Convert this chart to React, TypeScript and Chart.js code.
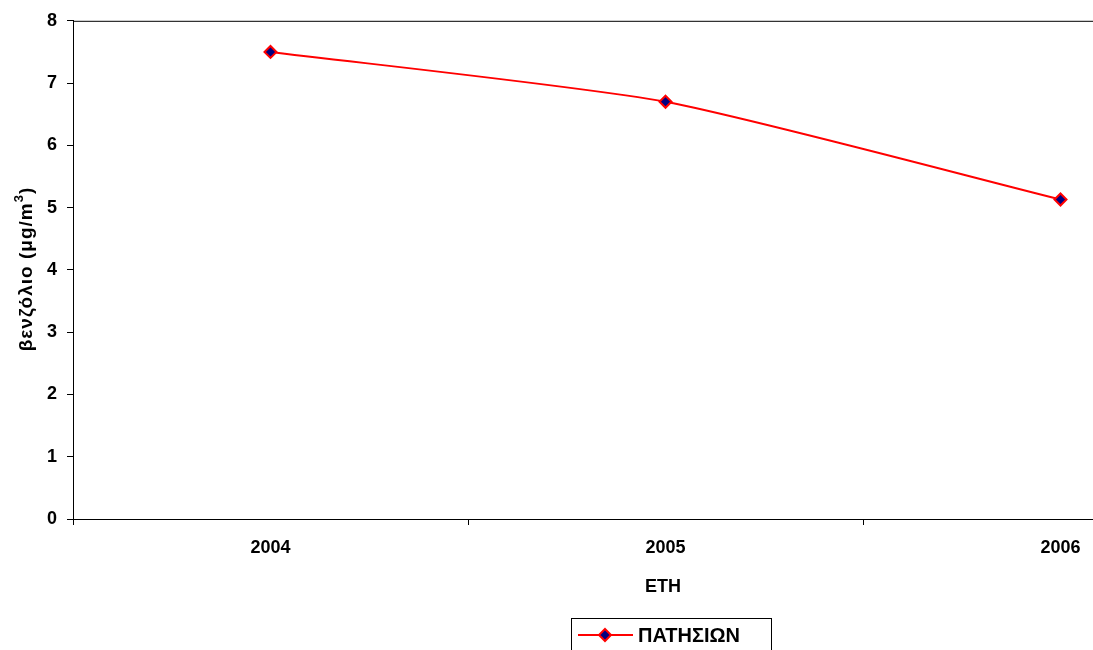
import React, { useEffect, useRef } from "react";
import { Chart, registerables } from "chart.js";
Chart.register(...registerables);

const categories = ["2004", "2005", "2006"];
const values = [7.5, 6.7, 5.13];
const seriesName = "ΠΑΤΗΣΙΩΝ";
const yTitleMain = "βενζόλιο (μg/m";
const yTitleSup = "3";
const yTitleEnd = ")";
const xTitle = "ΕΤΗ";

const FONT = "Arial, 'Liberation Sans', sans-serif";

const framePlugin = {
  id: "frame",
  afterDraw(chart: any) {
    const { ctx, chartArea: a } = chart;
    ctx.save();
    ctx.strokeStyle = "#000";
    ctx.lineWidth = 1;
    ctx.strokeRect(a.left + 0.5, a.top + 0.5, a.right - a.left, a.bottom - a.top);
    ctx.fillStyle = "#000";
    // x title
    ctx.font = `bold 18px ${FONT}`;
    ctx.textAlign = "center";
    ctx.textBaseline = "middle";
    ctx.fillText(xTitle, 663, 587);
    // y title
    ctx.save();
    ctx.translate(27, 269);
    ctx.rotate(-Math.PI / 2);
    const big = `bold 19px ${FONT}`;
    const small = `bold 13px ${FONT}`;
    ctx.letterSpacing = "1px";
    ctx.font = big;
    const w1 = ctx.measureText(yTitleMain).width;
    ctx.font = small;
    const w2 = ctx.measureText(yTitleSup).width;
    ctx.font = big;
    const w3 = ctx.measureText(yTitleEnd).width;
    let x = -(w1 + w2 + w3) / 2;
    ctx.textAlign = "left";
    ctx.fillText(yTitleMain, x, 0);
    x += w1;
    ctx.font = small;
    ctx.fillText(yTitleSup, x, -8);
    x += w2;
    ctx.font = big;
    ctx.fillText(yTitleEnd, x, 0);
    ctx.restore();
    // legend
    const lx = 571, ly = 618, lw = 200, lh = 40;
    ctx.strokeRect(lx + 0.5, ly + 0.5, lw, lh);
    const cy = ly + 17;
    ctx.strokeStyle = "#ff0000";
    ctx.lineWidth = 2;
    ctx.beginPath();
    ctx.moveTo(lx + 7, cy);
    ctx.lineTo(lx + 62, cy);
    ctx.stroke();
    const mx = lx + 34, r = 6;
    ctx.beginPath();
    ctx.moveTo(mx, cy - r);
    ctx.lineTo(mx + r, cy);
    ctx.lineTo(mx, cy + r);
    ctx.lineTo(mx - r, cy);
    ctx.closePath();
    ctx.fillStyle = "#000080";
    ctx.fill();
    ctx.stroke();
    ctx.fillStyle = "#000";
    ctx.font = `bold 20px ${FONT}`;
    ctx.textBaseline = "middle";
    ctx.textAlign = "left";
    ctx.fillText(seriesName, lx + 67, cy + 1);
    ctx.restore();
  },
};

export default function App() {
  const ref = useRef<HTMLCanvasElement>(null);
  useEffect(() => {
    const chart = new Chart(ref.current!, {
      type: "line",
      data: {
        labels: categories,
        datasets: [
          {
            label: seriesName,
            data: values,
            borderColor: "#ff0000",
            borderWidth: 2,
            tension: 0.2,
            pointStyle: "rectRot",
            pointRadius: 6,
            pointBackgroundColor: "#000080",
            pointBorderColor: "#ff0000",
            pointBorderWidth: 2,
          },
        ],
      },
      options: {
        animation: false,
        responsive: false,
        devicePixelRatio: 1,
        layout: { padding: { left: 0, top: 18, right: 12, bottom: 0 } },
        plugins: { legend: { display: false }, tooltip: { enabled: false } },
        scales: {
          x: {
            offset: true,
            grid: { display: true, drawOnChartArea: false, offset: true, tickLength: 6, color: "#000" },
            border: { display: true, color: "#000" },
            ticks: { color: "#000", font: { family: FONT, size: 18, weight: "bold" }, padding: 12 },
            afterFit(s: any) { s.height = 131; },
          },
          y: {
            min: 0,
            max: 8,
            ticks: { stepSize: 1, color: "#000", font: { family: FONT, size: 18, weight: "bold" }, padding: 10 },
            grid: { display: true, drawOnChartArea: false, tickLength: 6, color: "#000" },
            border: { display: true, color: "#000" },
            afterFit(s: any) { s.width = 73; },
          },
        },
      },
      plugins: [framePlugin],
    });
    return () => chart.destroy();
  }, []);
  return (
    <div style={{ position: "absolute", left: 0, top: 0, width: 1093, height: 650, overflow: "hidden", background: "#fff" }}>
      <canvas ref={ref} width={1270} height={650} style={{ width: 1270, height: 650 }} />
    </div>
  );
}
